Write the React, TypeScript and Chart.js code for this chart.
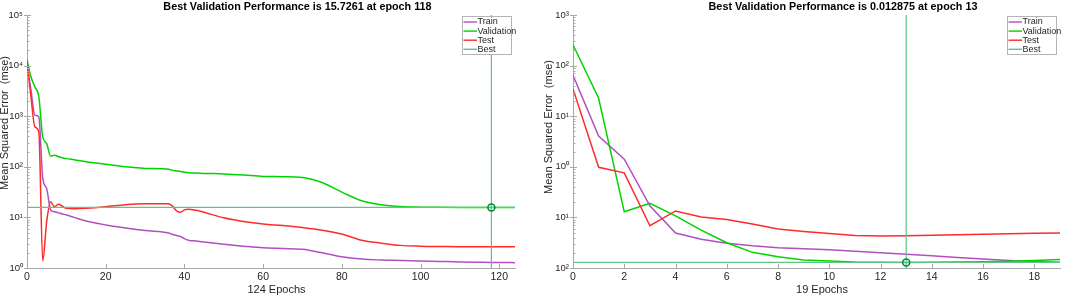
import React, { useEffect, useRef } from 'react';
import { Chart, registerables } from 'chart.js';

Chart.register(...registerables);

const FONT = '"Liberation Sans", Arial, Helvetica, sans-serif';
Chart.defaults.font.family = FONT;

// ---------- shared ----------
const seriesNames = ['Train', 'Validation', 'Test', 'Best'];
const seriesColors = ['#b050c0', '#00d400', '#ff2a2a', '#62c383'];
const bestMarkerColor = '#00873c';
const yAxisTitle = 'Mean Squared Error  (mse)';

// ---------- left panel ----------
const leftTitle = 'Best Validation Performance is 15.7261 at epoch 118';
const leftXTitle = '124 Epochs';
const leftEpochs = [0, 1, 2, 3, 4, 5, 6, 7, 8, 9, 10, 12, 15, 20, 25, 30, 36, 37, 38, 39, 40, 41, 43, 45, 50, 55, 60, 65, 70, 75, 80, 85, 90, 95, 100, 105, 110, 115, 118, 120, 124];
const leftTrain = [11200, 3310, 1050, 977, 60, 37, 14.1, 12.9, 12.3, 11.7, 11.2, 10.0, 8.5, 7.1, 6.2, 5.5, 4.9, 4.6, 4.4, 4.2, 3.8, 3.55, 3.4, 3.25, 2.95, 2.7, 2.5, 2.43, 2.34, 2.0, 1.66, 1.5, 1.44, 1.41, 1.38, 1.35, 1.32, 1.3, 1.29, 1.29, 1.27];
const leftValidation = [13200, 6000, 3800, 2450, 389, 288, 162, 170, 158, 151, 145, 138, 126, 112, 100, 93, 89, 85, 83, 81, 78, 76, 75, 74, 72.4, 69, 64.6, 63.8, 61.7, 49, 31.6, 21.4, 17.8, 16.4, 15.96, 15.85, 15.78, 15.74, 15.7261, 15.73, 15.74];
const leftTest = [11200, 2450, 617, 490, 1.38, 8.3, 20.4, 16.2, 18.2, 16.6, 15.1, 14.8, 15.1, 16.2, 17.8, 18.6, 18.6, 16.5, 13.5, 12.6, 14.1, 14.5, 13.8, 12.6, 9.8, 8.3, 7.4, 6.9, 6.3, 5.6, 4.7, 3.55, 3.1, 2.8, 2.7, 2.66, 2.63, 2.63, 2.63, 2.63, 2.63];
const leftBestEpoch = 118;
const leftBestValue = 15.7261;
const leftXRange = [0, 124];
const leftYRange = [1, 100000];
const leftXTicks = [0, 20, 40, 60, 80, 100, 120];
const leftYTickExps = [0, 1, 2, 3, 4, 5];
const leftYTickLabels = ['10⁰', '10¹', '10²', '10³', '10⁴', '10⁵'];

// ---------- right panel ----------
const rightTitle = 'Best Validation Performance is 0.012875 at epoch 13';
const rightXTitle = '19 Epochs';
const rightEpochs = [0, 1, 2, 3, 4, 5, 6, 7, 8, 9, 10, 11, 12, 13, 14, 15, 16, 17, 18, 19];
const rightTrain = [64.6, 4.07, 1.41, 0.17, 0.049, 0.037, 0.031, 0.0275, 0.0251, 0.024, 0.0229, 0.0214, 0.02, 0.0186, 0.0174, 0.0162, 0.0151, 0.0141, 0.0135, 0.013];
const rightValidation = [257, 22.6, 0.129, 0.19, 0.107, 0.056, 0.0316, 0.0204, 0.0166, 0.01445, 0.0138, 0.0132, 0.013, 0.012875, 0.01294, 0.0132, 0.01334, 0.01365, 0.0141, 0.0148];
const rightTest = [34.7, 0.98, 0.76, 0.0684, 0.134, 0.102, 0.091, 0.074, 0.059, 0.0525, 0.0479, 0.0437, 0.0427, 0.0432, 0.0442, 0.0452, 0.0462, 0.0473, 0.0484, 0.049];
const rightBestEpoch = 13;
const rightBestValue = 0.012875;
const rightXRange = [0, 19];
const rightYRange = [0.01, 1000];
const rightXTicks = [0, 2, 4, 6, 8, 10, 12, 14, 16, 18];
const rightYTickExps = [-2, -1, 0, 1, 2, 3];
const rightYTickLabels = ['10²', '10¹', '10⁰', '10¹', '10²', '10³'];

const AXIS_COLOR = '#a8a8a8';
const TICK_COLOR = '#262626';

const leftPanel = {
  title: leftTitle, xTitle: leftXTitle, epochs: leftEpochs,
  train: leftTrain, validation: leftValidation, test: leftTest,
  bestEpoch: leftBestEpoch, bestValue: leftBestValue,
  xRange: leftXRange, yRange: leftYRange, xTicks: leftXTicks,
  yExps: leftYTickExps, yLabels: leftYTickLabels, smooth: true,
  yAxisWidth: 27, padRight: 15, yTitleX: 5, yTitleY: 123, yPad: 4,
};

const rightPanel = {
  title: rightTitle, xTitle: rightXTitle, epochs: rightEpochs,
  train: rightTrain, validation: rightValidation, test: rightTest,
  bestEpoch: rightBestEpoch, bestValue: rightBestValue,
  xRange: rightXRange, yRange: rightYRange, xTicks: rightXTicks,
  yExps: rightYTickExps, yLabels: rightYTickLabels, smooth: false,
  yAxisWidth: 43, padRight: 1, yTitleX: 19, yTitleY: 127, yPad: 4,
};

const isPow10 = (v: number) => {
  const l = Math.log10(v);
  return Math.abs(l - Math.round(l)) < 1e-6;
};

const inwardTicks = {
  id: 'inwardTicks',
  afterDatasetsDraw(chart: any) {
    const { ctx, chartArea: a, scales } = chart;
    ctx.save();
    ctx.strokeStyle = AXIS_COLOR;
    ctx.lineWidth = 1;
    ctx.beginPath();
    for (const t of scales.x.ticks) {
      const px = Math.round(scales.x.getPixelForValue(t.value)) + 0.5;
      ctx.moveTo(px, a.bottom);
      ctx.lineTo(px, a.bottom - 4);
    }
    for (const t of scales.y.ticks) {
      const py = Math.round(scales.y.getPixelForValue(t.value)) + 0.5;
      const major = isPow10(t.value);
      ctx.moveTo(a.left - (major ? 3 : 0), py);
      ctx.lineTo(a.left + (major ? 4 : 2.5), py);
    }
    ctx.stroke();
    ctx.restore();
  },
};

function makeDecor(p: any) {
  return {
    id: 'decor',
    afterDraw(chart: any) {
      const { ctx, chartArea: a } = chart;
      const cx = (a.left + a.right) / 2;
      ctx.save();
      ctx.textAlign = 'center';
      ctx.textBaseline = 'alphabetic';
      ctx.fillStyle = '#000';
      ctx.font = `bold 10.8px ${FONT}`;
      ctx.fillText(p.title, cx + 26.5, 10);
      ctx.fillStyle = TICK_COLOR;
      ctx.font = `11px ${FONT}`;
      ctx.fillText(p.xTitle, cx + 5.5, 293);
      ctx.save();
      ctx.translate(p.yTitleX, p.yTitleY);
      ctx.rotate(-Math.PI / 2);
      ctx.textBaseline = 'middle';
      ctx.fillText(yAxisTitle, 0, 0);
      ctx.restore();

      // legend
      const bw = 49, bh = 38;
      const bx = Math.round(a.right - 53) + 0.5;
      const by = Math.round(a.top + 1) + 0.5;
      ctx.fillStyle = '#fff';
      ctx.fillRect(bx, by, bw, bh);
      ctx.strokeStyle = '#b4b4b4';
      ctx.lineWidth = 1;
      ctx.strokeRect(bx, by, bw, bh);
      ctx.font = `9px ${FONT}`;
      ctx.textAlign = 'left';
      ctx.textBaseline = 'middle';
      seriesNames.forEach((name, i) => {
        const y = by + 5.5 + i * 9.1;
        ctx.strokeStyle = seriesColors[i];
        ctx.lineWidth = 1.4;
        ctx.beginPath();
        ctx.moveTo(bx + 1, y);
        ctx.lineTo(bx + 14.5, y);
        ctx.stroke();
        ctx.fillStyle = TICK_COLOR;
        ctx.fillText(name, bx + 15, y);
      });
      ctx.restore();
    },
  };
}

function makeConfig(p: any): any {
  const pts = (vals: number[]) => p.epochs.map((e: number, i: number) => ({ x: e, y: vals[i] }));
  const [xMin, xMax] = p.xRange;
  const [yMin, yMax] = p.yRange;
  const curve = p.smooth ? { cubicInterpolationMode: 'monotone' } : {};
  return {
    type: 'line',
    data: {
      datasets: [
        { label: seriesNames[0], data: pts(p.train), borderColor: seriesColors[0], order: 5, ...curve },
        { label: seriesNames[1], data: pts(p.validation), borderColor: seriesColors[1], order: 4, ...curve },
        { label: seriesNames[2], data: pts(p.test), borderColor: seriesColors[2], order: 3, ...curve },
        { label: seriesNames[3], data: [{ x: xMin, y: p.bestValue }, { x: xMax, y: p.bestValue }], borderColor: seriesColors[3], borderWidth: 1.2, order: 2 },
        { label: 'Best epoch', data: [{ x: p.bestEpoch, y: yMin }, { x: p.bestEpoch, y: yMax }], borderColor: seriesColors[3], borderWidth: 1.2, order: 2 },
        {
          label: 'Best point', data: [{ x: p.bestEpoch, y: p.bestValue }], showLine: false,
          pointRadius: 3.5, pointBorderWidth: 1.5, pointBorderColor: bestMarkerColor,
          pointBackgroundColor: 'rgba(0,0,0,0)', borderColor: bestMarkerColor, order: 1,
        },
      ],
    },
    options: {
      responsive: false,
      animation: false,
      devicePixelRatio: 1,
      events: [],
      layout: { padding: { left: 0, right: p.padRight, top: 15, bottom: 0 } },
      elements: {
        line: { borderWidth: 1.5, tension: 0, fill: false },
        point: { radius: 0, hitRadius: 0, hoverRadius: 0 },
      },
      plugins: { legend: { display: false }, title: { display: false }, tooltip: { enabled: false } },
      scales: {
        x: {
          type: 'linear', min: xMin, max: xMax,
          grid: { display: false, drawTicks: false },
          border: { display: true, color: AXIS_COLOR, width: 1 },
          ticks: { font: { size: 10.5 }, color: TICK_COLOR, padding: 3, autoSkip: false, maxRotation: 0 },
          afterBuildTicks: (s: any) => { s.ticks = p.xTicks.map((v: number) => ({ value: v })); },
          afterFit: (s: any) => { s.height = 27; },
        },
        y: {
          type: 'logarithmic', min: yMin, max: yMax,
          grid: { display: false, drawTicks: false },
          border: { display: true, color: AXIS_COLOR, width: 1 },
          ticks: {
            font: { size: 9.5 }, color: TICK_COLOR, padding: p.yPad, autoSkip: false,
            callback: (value: number) => {
              if (!isPow10(value)) return '';
              const idx = p.yExps.indexOf(Math.round(Math.log10(value)));
              return idx >= 0 ? p.yLabels[idx] : '';
            },
          },
          afterBuildTicks: (s: any) => {
            const ticks: any[] = [];
            const exps = p.yExps;
            exps.forEach((e: number, k: number) => {
              const last = k === exps.length - 1;
              for (let m = 1; m <= (last ? 1 : 9); m++) {
                ticks.push({ value: Number((m * Math.pow(10, e)).toPrecision(6)) });
              }
            });
            s.ticks = ticks;
          },
          afterFit: (s: any) => { s.width = p.yAxisWidth; },
        },
      },
    },
    plugins: [inwardTicks, makeDecor(p)],
  };
}

function Panel({ cfg, left, width }: { cfg: any; left: number; width: number }) {
  const ref = useRef<HTMLCanvasElement | null>(null);
  useEffect(() => {
    if (!ref.current) return;
    const chart = new Chart(ref.current, makeConfig(cfg));
    return () => chart.destroy();
  }, [cfg]);
  return (
    <canvas
      ref={ref}
      width={width}
      height={295}
      style={{ position: 'absolute', left, top: 0, width, height: 295, display: 'block' }}
    />
  );
}

export default function App() {
  return (
    <div style={{ position: 'absolute', left: 0, top: 0, width: 1065, height: 295, background: '#fff', overflow: 'hidden' }}>
      <Panel cfg={leftPanel} left={0} width={530} />
      <Panel cfg={rightPanel} left={530} width={535} />
    </div>
  );
}
